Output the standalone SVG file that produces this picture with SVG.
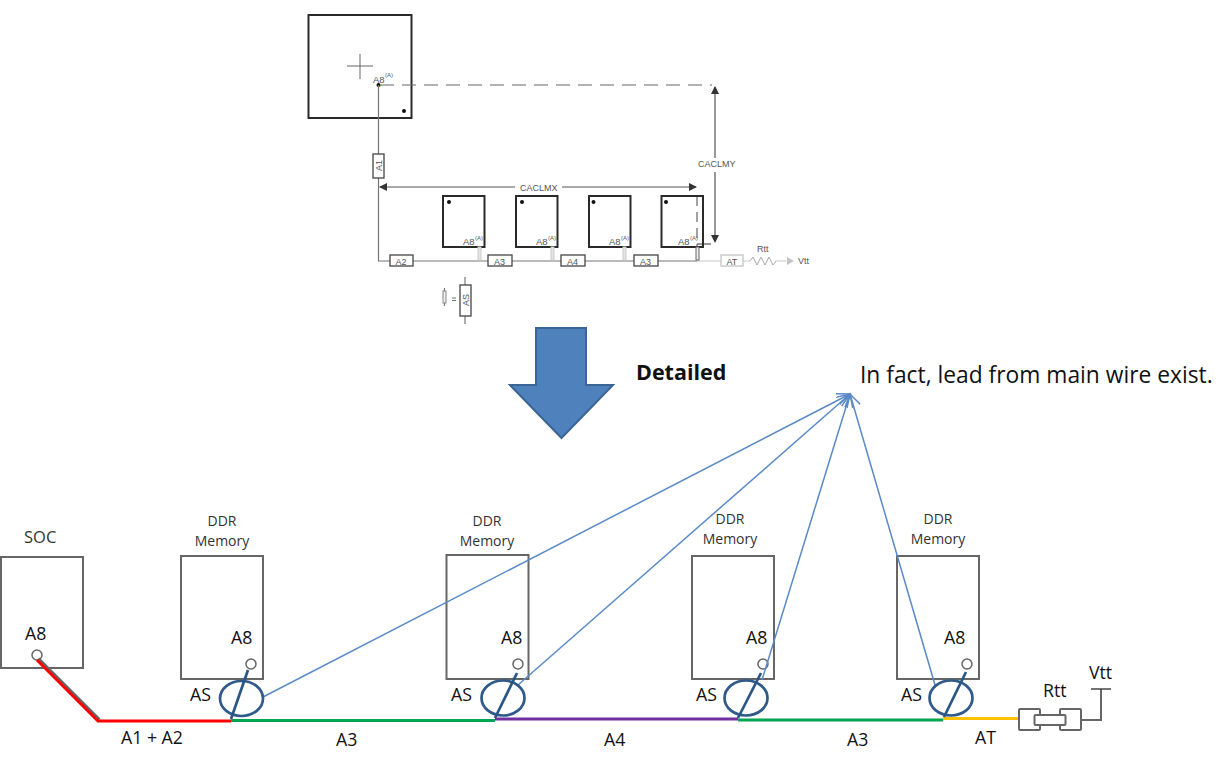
<svg xmlns="http://www.w3.org/2000/svg" width="1230" height="765" viewBox="0 0 1230 765">
<style>
text{font-family:"Open Sans","Noto Sans",sans-serif;fill:#111}
.lbl{font-size:17.7px}
.ttl{font-size:14px;fill:#333}
.box{fill:#fff;stroke:#666;stroke-width:2}
.pin{fill:#fff;stroke:#666;stroke-width:1.5}
.as{fill:none;stroke:#2f5a8a;stroke-width:2.700}
.lead{stroke:#2a5686;stroke-width:2.700;fill:none}
.ptr{stroke:#5a8ac6;stroke-width:1.500;fill:none}
.t{font-family:"Liberation Sans",sans-serif;fill:#555}
.s9{font-size:9.500px}.s7{font-size:9px}.s5{font-size:6px}
.chip{fill:#fff;stroke:#2a2a2a;stroke-width:2}
.w{stroke:#777;stroke-width:1.2;fill:none}
.lw{stroke:#c8c8c8;stroke-width:1.2;fill:none}
.tag{fill:#fff;stroke:#444;stroke-width:1.3}
.dash{stroke:#666;stroke-width:1.2;fill:none;stroke-dasharray:14 8}
.dot{fill:#111}
.dim{stroke:#555;stroke-width:1.2;fill:none}
.head{fill:#333}
.stub{fill:#e4e4e4;stroke:#ccc;stroke-width:1}
</style>
<defs>
<marker id="open" markerUnits="userSpaceOnUse" markerWidth="16" markerHeight="16" refX="13" refY="7" orient="auto">
<path d="M0 0L13 7L0 14" fill="none" stroke="#5a8ac6" stroke-width="1.500"/>
</marker>
</defs>

<!-- package outline -->
<g id="soc-top">
<rect class="chip" x="308.500" y="15" width="103" height="103"/>
<path d="M360 54V79M347 66H373" stroke="#666" stroke-width="1" fill="none"/>
<text class="t s9" x="373" y="83">A8</text><text class="t s5" x="385" y="77">(A)</text>
<circle class="dot" cx="378.500" cy="85" r="2"/>
<circle class="dot" cx="404" cy="111" r="2"/>
</g>
<g id="top-wires">
<path class="dash" d="M380 85H712"/>
<path class="w" d="M378.500 85V154M378.500 178V261H390M413 261H488M512 261H561M585 261H634M658 261H697"/>
<path class="lw" d="M697 261H721M743 261H750M776 261H786"/>
<path d="M750 261l3-4 4 8 4-8 4 8 4-8 4 8 3-4" style="stroke:#aaa;stroke-width:1;fill:none"/>
<path d="M787 257L794 261L787 265Z" fill="#c4c4c4"/>
<path class="dim" d="M380 187H515M562 187H696"/>
<path d="M379 187L387 183V191Z M697 187L689 183V191Z" class="head"/>
<path class="dim" d="M715 87V158M715 172V236"/>
<path d="M715 86L711 94H719Z M715 243L711 235H719Z" class="head"/>
<path class="dash" d="M697 196V258" style="stroke-dasharray:10 6"/>
<path class="dim" d="M697 244H711"/>
</g>
<g id="tag-a1"><rect class="tag" x="373" y="154" width="11" height="24"/><text class="t s7" transform="translate(381.500 171) rotate(-90)">A1</text></g>
<g id="tag-a2"><rect class="tag" x="390" y="255" width="23" height="11"/><text class="t s7" x="395.500" y="264.500">A2</text></g>
<g id="tag-a3a"><rect class="tag" x="488" y="255" width="24" height="11"/><text class="t s7" x="494" y="264.500">A3</text></g>
<g id="tag-a4"><rect class="tag" x="561" y="255" width="24" height="11"/><text class="t s7" x="567" y="264.500">A4</text></g>
<g id="tag-a3b"><rect class="tag" x="634" y="255" width="24" height="11"/><text class="t s7" x="640" y="264.500">A3</text></g>
<g id="tag-at"><rect x="721" y="255" width="22" height="11" fill="#fff" stroke="#c4c4c4" stroke-width="1.3"/><text class="t s7" x="726.500" y="264.500">AT</text></g>
<text class="t s7" x="757" y="252">Rtt</text>
<text class="t s7" x="798" y="264">Vtt</text>
<text class="t s7" x="520" y="191">CACLMX</text>
<text class="t s7" x="698" y="167">CACLMY</text>
<g id="chip-1"><rect class="chip" x="443" y="196" width="41.500" height="51"/><circle class="dot" cx="449" cy="202" r="2"/><text class="t s9" x="463" y="245">A8</text><text class="t s5" x="475" y="240">(A)</text><rect class="stub" x="478" y="247" width="3" height="13"/></g>
<g id="chip-2"><rect class="chip" x="516" y="196" width="41.500" height="51"/><circle class="dot" cx="522" cy="202" r="2"/><text class="t s9" x="536" y="245">A8</text><text class="t s5" x="548" y="240">(A)</text><rect class="stub" x="551" y="247" width="3" height="13"/></g>
<g id="chip-3"><rect class="chip" x="589" y="196" width="41.500" height="51"/><circle class="dot" cx="593.500" cy="202" r="2"/><text class="t s9" x="609" y="245">A8</text><text class="t s5" x="621" y="240">(A)</text><rect class="stub" x="623" y="247" width="3" height="13"/></g>
<g id="chip-4"><rect class="chip" x="661.500" y="196" width="41.500" height="51" style="fill:none"/><circle class="dot" cx="666" cy="202" r="2"/><text class="t s9" x="678" y="245">A8</text><text class="t s5" x="690" y="240">(A)</text><rect x="696" y="247" width="3" height="13" fill="#eee" stroke="#666"/></g>
<g id="as-legend">
<rect x="443" y="291" width="3" height="12" fill="#eee" stroke="#888"/>
<path class="w" d="M444.500 288V291M444.500 303V306M452 298H456M452 300.500H456M465 277V285M465 316V324"/>
<rect class="tag" x="460" y="285" width="11" height="31"/>
<text class="t s7" transform="translate(468.500 306) rotate(-90)">AS</text>
</g>

<!-- downward arrow -->
<g id="arrow-down">
<path d="M536 328H586V385H613L561.500 438L510 385H536Z" fill="#4f81bd" stroke="#3a6595" stroke-width="2"/>
</g>
<text x="636" y="380" font-size="21.500" font-weight="700">Detailed</text>
<text x="860" y="383" font-size="22.800">In fact, lead from main wire exist.</text>

<g id="soc">
<rect class="box" x="1" y="557" width="82" height="111"/>
<text class="ttl" x="24" y="543" style="font-size:16.500px">SOC</text>
<text class="lbl" x="25" y="640">A8</text>
<circle class="pin" cx="37" cy="655" r="5"/>
</g>
<g id="ddr-1">
<rect class="box" x="181" y="556" width="82" height="123"/>
<text class="ttl" x="222" y="526" text-anchor="middle">DDR</text><text class="ttl" x="222" y="546" text-anchor="middle">Memory</text>
<text class="lbl" x="231" y="644">A8</text>
<circle class="pin" cx="251" cy="664" r="5"/>
</g>
<g id="ddr-2">
<rect class="box" x="446.500" y="555" width="82" height="124"/>
<text class="ttl" x="487" y="526" text-anchor="middle">DDR</text><text class="ttl" x="487" y="546" text-anchor="middle">Memory</text>
<text class="lbl" x="501" y="644">A8</text>
<circle class="pin" cx="518" cy="664" r="5"/>
</g>
<g id="ddr-3">
<rect class="box" x="692" y="556" width="82" height="123"/>
<text class="ttl" x="730" y="524" text-anchor="middle">DDR</text><text class="ttl" x="730" y="544" text-anchor="middle">Memory</text>
<text class="lbl" x="746" y="644">A8</text>
<circle class="pin" cx="763" cy="664" r="5"/>
</g>
<g id="ddr-4">
<rect class="box" x="897" y="556" width="82" height="123"/>
<text class="ttl" x="938" y="524" text-anchor="middle">DDR</text><text class="ttl" x="938" y="544" text-anchor="middle">Memory</text>
<text class="lbl" x="944" y="644">A8</text>
<circle class="pin" cx="967" cy="664" r="5"/>
</g>

<g id="connectors">
<path d="M38 659L99 720" stroke="#666" stroke-width="4" fill="none"/>
<path d="M37 660L98 721H231" stroke="#f00" stroke-width="3" fill="none"/>
<path d="M231 720.500H495" stroke="#00a650" stroke-width="3"/>
<path d="M495 719H738" stroke="#7030a0" stroke-width="3"/>
<path d="M738 720H943" stroke="#00a650" stroke-width="3"/>
<path d="M943 718.500H1021" stroke="#ffc000" stroke-width="3"/>
<path d="M1081 720H1101V689" stroke="#666" stroke-width="2" fill="none"/>
<path d="M1091 689H1111" stroke="#444" stroke-width="1.500"/>
<path class="ptr" marker-end="url(#open)" d="M263 697L850 394"/>
<path class="ptr" marker-end="url(#open)" d="M518 685L850 394"/>
<path class="ptr" marker-end="url(#open)" d="M762 680L850 394"/>
<path class="ptr" marker-end="url(#open)" d="M935 685L850 394"/>
</g>

<g id="as-1"><ellipse class="as" cx="241.500" cy="698.500" rx="21.500" ry="17.500"/><path class="lead" d="M231 719L248 670"/><text class="lbl" x="190" y="701">AS</text></g>
<g id="as-2"><ellipse class="as" cx="503" cy="698" rx="21.500" ry="17.500"/><path class="lead" d="M495 718L517 673"/><text class="lbl" x="451" y="701">AS</text></g>
<g id="as-3"><ellipse class="as" cx="746" cy="698" rx="21.500" ry="17.500"/><path class="lead" d="M738 718L761 673"/><text class="lbl" x="696" y="701">AS</text></g>
<g id="as-4"><ellipse class="as" cx="951" cy="698" rx="21.500" ry="17.500"/><path class="lead" d="M944 717L966 672"/><text class="lbl" x="901" y="701">AS</text></g>

<g id="rtt">
<rect class="box" x="1019" y="709" width="21" height="21" rx="1"/>
<rect class="box" x="1060" y="709" width="21" height="21" rx="1"/>
<rect class="box" x="1034.500" y="715" width="31" height="10" rx="1"/>
<text class="lbl" x="1043" y="697">Rtt</text>
<text class="lbl" x="1089" y="679">Vtt</text>
</g>

<text class="lbl" x="121" y="744">A1 + A2</text>
<text class="lbl" x="336" y="746">A3</text>
<text class="lbl" x="604" y="746">A4</text>
<text class="lbl" x="847" y="746">A3</text>
<text class="lbl" x="975" y="744">AT</text>
</svg>
